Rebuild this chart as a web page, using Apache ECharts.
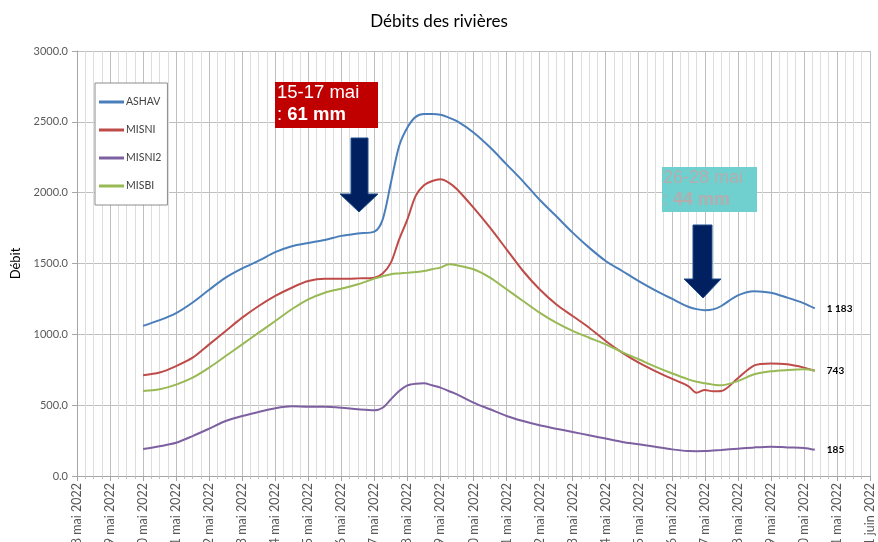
<!DOCTYPE html>
<html>
<head>
<meta charset="utf-8">
<script src="https://cdn.jsdelivr.net/npm/echarts@6/dist/echarts.min.js"></script>
<style>
  html, body { margin: 0; padding: 0; background: #fff; }
  #main { width: 878px; height: 542px; }
</style>
</head>
<body>
<div id="main"></div>
<script>
// temps : jour de mai (32 = 1 juin)
var jours = [10, 10.5, 11, 11.5, 12, 12.5, 13, 13.5, 14, 14.5, 15, 15.5, 16, 16.5, 17,
  17.25, 17.5, 17.75, 18, 18.25, 18.5, 18.75, 19, 19.25, 19.5,
  20, 20.5, 21, 21.5, 22, 22.5, 23, 23.5, 24, 24.5, 25, 25.5, 26, 26.5,
  26.75, 27, 27.25, 27.5, 28, 28.5, 29, 29.5, 30, 30.33];

var ashav = [1060, 1100, 1150, 1225, 1315, 1400, 1465, 1520, 1580, 1622, 1645, 1666, 1695, 1712, 1725,
  1810, 2070, 2330, 2460, 2535, 2555, 2555, 2550, 2530, 2505,
  2425, 2320, 2200, 2080, 1950, 1835, 1718, 1612, 1518, 1447, 1376, 1311, 1252, 1195,
  1178, 1170, 1176, 1200, 1275, 1305, 1294, 1259, 1219, 1183];

var misni = [712, 730, 776, 835, 929, 1024, 1118, 1200, 1271, 1329, 1376, 1393, 1392, 1395, 1400,
  1430, 1506, 1671, 1812, 1977, 2052, 2082, 2094, 2071, 2024,
  1894, 1753, 1600, 1447, 1318, 1212, 1129, 1047, 953, 871, 800, 741, 687, 635,
  588, 607, 598, 600, 690, 781, 795, 788, 765, 743];

var misni2 = [190, 210, 235, 282, 334, 388, 424, 452, 478, 492, 488, 488, 482, 471, 464,
  482, 541, 600, 640, 652, 654, 640, 624, 600, 576,
  518, 471, 424, 388, 358, 334, 311, 287, 264, 240, 224, 207, 188, 176,
  175, 176, 180, 184, 193, 202, 207, 202, 198, 185];

var misbi = [600, 612, 645, 694, 765, 847, 929, 1012, 1094, 1177, 1247, 1294, 1322, 1353, 1393,
  1410, 1424, 1430, 1435, 1440, 1447, 1460, 1471, 1494, 1487,
  1459, 1400, 1318, 1235, 1153, 1082, 1024, 976, 929, 875, 824, 772, 725, 682,
  665, 654, 645, 640, 670, 718, 739, 748, 753, 743];

var noms = ['ASHAV', 'MISNI', 'MISNI2', 'MISBI'];
var couleurs = ['#4A7EBB', '#BE4B48', '#7D60A0', '#98B954'];
var valeurs = [ashav, misni, misni2, misbi];
var etiquetteFin = [true, false, true, true];

var police = 'Lato, "Open Sans", sans-serif';

function milliers(v) {
  return String(Math.round(v)).replace(/\B(?=(\d{3})+(?!\d))/g, ' ');
}

var series = noms.map(function (nom, k) {
  return {
    name: nom,
    type: 'line',
    smooth: 0.3,
    symbol: 'none',
    lineStyle: { width: 2, color: couleurs[k] },
    itemStyle: { color: couleurs[k] },
    endLabel: {
      show: etiquetteFin[k],
      distance: 12,
      fontFamily: police,
      fontSize: 10,
      fontWeight: 'bold',
      color: '#000',
      formatter: function (p) { return milliers(p.value[1]); }
    },
    data: jours.map(function (d, i) { return [d, valeurs[k][i]]; })
  };
});

var myChart = echarts.init(document.getElementById('main'));
var option = {
  backgroundColor: '#fff',
  animation: false,
  title: {
    text: 'Débits des rivières',
    left: 'center',
    top: 8,
    textStyle: { fontFamily: police, fontSize: 17, fontWeight: 'normal', color: '#000' }
  },
  legend: {
    orient: 'vertical',
    left: 95,
    top: 83,
    padding: [13, 6, 13, 4],
    itemGap: 16,
    itemWidth: 25,
    itemHeight: 3,
    icon: 'rect',
    borderColor: '#8c8c8c',
    borderWidth: 1,
    backgroundColor: '#fff',
    textStyle: { fontFamily: police, fontSize: 10.5, color: '#404040', padding: [0, 0, 0, -3], lineHeight: 12 },
    data: noms
  },
  grid: { left: 77, right: 8, top: 51, bottom: 66, outerBoundsMode: 'none', containLabel: false },
  xAxis: {
    type: 'value',
    min: 8,
    max: 32,
    interval: 1,
    axisLine: { show: true, lineStyle: { color: '#A6A6A6' } },
    axisTick: { show: true, length: 5, lineStyle: { color: '#A6A6A6' } },
    minorTick: { show: true, splitNumber: 4, length: 3, lineStyle: { color: '#BFBFBF' } },
    splitLine: { show: true, lineStyle: { color: '#BFBFBF', width: 1 } },
    minorSplitLine: { show: true, lineStyle: { color: '#DDDDDD', width: 1 } },
    axisLabel: {
      rotate: 90,
      margin: 7,
      fontFamily: police,
      fontSize: 12.5,
      color: '#595959',
      formatter: function (v) {
        return v <= 31 ? v + ' mai 2022' : (v - 31) + ' juin 2022';
      }
    }
  },
  yAxis: {
    type: 'value',
    min: 0,
    max: 3000,
    interval: 500,
    name: 'Débit',
    nameLocation: 'middle',
    nameGap: 50,
    nameTextStyle: { fontFamily: police, fontSize: 13, color: '#000' },
    axisLine: { show: true, lineStyle: { color: '#A6A6A6' } },
    axisTick: { show: true, length: 5, lineStyle: { color: '#A6A6A6' } },
    splitLine: { show: true, lineStyle: { color: '#BFBFBF', width: 1 } },
    axisLabel: {
      fontFamily: police,
      fontSize: 11,
      color: '#595959',
      margin: 9,
      formatter: function (v) { return v.toFixed(1); }
    }
  },
  graphic: [
    // pluie 15-17 mai
    {
      type: 'rect',
      shape: { x: 275, y: 82, width: 103, height: 46 },
      style: { fill: '#C00000' },
      z: 100
    },
    {
      type: 'text',
      x: 277, y: 82,
      style: {
        text: '{a|15-17 mai}\n{a|: }{b|61 mm}',
        rich: {
          a: { fontFamily: 'Liberation Sans, Arial', fontSize: 18.5, fill: '#fff', lineHeight: 22 },
          b: { fontFamily: 'Liberation Sans, Arial', fontSize: 18.5, fontWeight: 'bold', fill: '#fff', lineHeight: 22 }
        }
      },
      z: 101
    },
    {
      type: 'polygon',
      shape: { points: [[351, 138], [368, 138], [368, 194], [378, 194], [359, 212], [340, 194], [351, 194]] },
      style: { fill: '#002060', stroke: '#1F4E8C', lineWidth: 1 },
      z: 100
    },
    // pluie 26-28 mai
    {
      type: 'rect',
      shape: { x: 662, y: 167, width: 95, height: 45 },
      style: { fill: '#70CFCF' },
      z: 100
    },
    {
      type: 'text',
      x: 663, y: 167,
      style: {
        text: '{a|26-28 mai}\n{a|: }{b|44 mm}',
        rich: {
          a: { fontFamily: 'Liberation Sans, Arial', fontSize: 18, fill: '#B5ADAD', lineHeight: 22 },
          b: { fontFamily: 'Liberation Sans, Arial', fontSize: 18, fontWeight: 'bold', fill: '#B5ADAD', lineHeight: 22 }
        }
      },
      z: 101
    },
    {
      type: 'polygon',
      shape: { points: [[693, 225], [712, 225], [712, 279], [721, 279], [703, 298], [684, 279], [693, 279]] },
      style: { fill: '#002060', stroke: '#1F4E8C', lineWidth: 1 },
      z: 100
    }
  ],
  series: series
};
myChart.setOption(option);
</script>
</body>
</html>
